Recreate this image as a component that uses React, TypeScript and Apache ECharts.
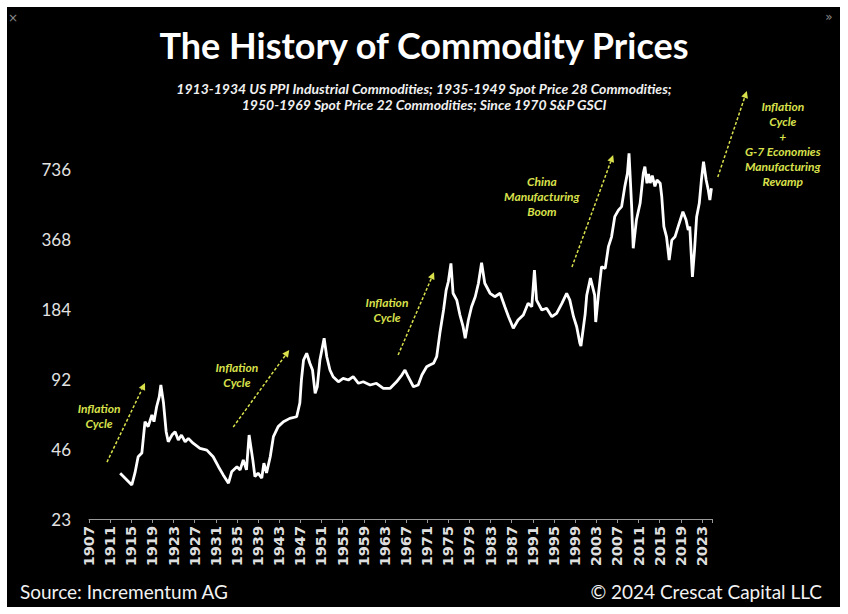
import React, { useEffect, useRef } from "react";
import * as echarts from "echarts";

// ---- Data ----
const BASE_YEAR = 1907;
const LAST_TICK_YEAR = 2023;
const AXIS_END_YEAR = 2025;
const TICK_STEP = 4;
const Y_TICK_LABELS = [23, 46, 92, 184, 368, 736];

const TITLE = "The History of Commodity Prices";
const SUBTITLE_LINES = [
  "1913-1934 US PPI Industrial Commodities; 1935-1949 Spot Price 28 Commodities;",
  "1950-1969 Spot Price 22 Commodities; Since 1970 S&P GSCI",
];
const SOURCE = "Source: Incrementum AG";
const COPYRIGHT = "© 2024 Crescat Capital LLC";

const YEARS = [
  1912.9, 1913.8, 1915.1, 1915.7, 1916.3, 1917.0, 1917.6, 1918.2, 1918.9, 1919.3,
  1919.8, 1920.3, 1920.6, 1921.1, 1921.6, 1922.0, 1922.7, 1923.3, 1923.9, 1924.5,
  1925.2, 1925.8, 1926.7, 1928.0, 1929.3, 1930.5, 1931.5, 1932.4, 1933.4, 1934.0,
  1935.0, 1935.6, 1936.2, 1936.8, 1937.3, 1938.0, 1938.4, 1939.0, 1939.7, 1940.1,
  1940.6, 1941.3, 1941.9, 1942.8, 1943.8, 1945.0, 1946.3, 1946.9, 1947.2, 1947.6,
  1948.2, 1948.8, 1949.3, 1949.8, 1950.2, 1950.7, 1951.5, 1952.0, 1952.6, 1953.2,
  1954.2, 1955.1, 1956.1, 1957.0, 1958.0, 1958.9, 1960.2, 1961.4, 1962.7, 1964.0,
  1965.2, 1966.2, 1966.8, 1967.4, 1968.4, 1969.3, 1970.0, 1970.9, 1971.5, 1972.2,
  1972.8, 1973.4, 1974.1, 1974.6, 1975.0, 1975.5, 1975.9, 1976.6, 1977.2, 1977.8,
  1978.2, 1978.8, 1979.4, 1980.1, 1980.7, 1981.3, 1981.9, 1982.9, 1983.8, 1984.8,
  1985.7, 1986.4, 1987.3, 1988.2, 1989.2, 1990.1, 1990.8, 1991.3, 1991.7, 1992.7,
  1993.6, 1994.6, 1995.5, 1996.5, 1997.4, 1998.0, 1998.7, 1999.3, 1999.9, 2000.1,
  2000.9, 2001.2, 2001.9, 2002.7, 2002.9, 2003.5, 2004.0, 2004.7, 2005.3, 2005.9,
  2006.5, 2007.2, 2007.8, 2008.4, 2008.9, 2009.2, 2009.7, 2010.0, 2010.6, 2011.3,
  2011.9, 2012.2, 2012.6, 2012.9, 2013.2, 2013.6, 2014.1, 2014.5, 2015.1, 2015.4,
  2015.8, 2016.3, 2016.8, 2017.3, 2017.9, 2018.5, 2019.4, 2020.0, 2020.4, 2020.7,
  2021.2, 2021.6, 2022.0, 2022.5, 2022.9, 2023.3, 2023.8, 2024.2, 2024.5, 2024.8,
];

const PRICES = [
  36.2, 34.5, 32.2, 36.3, 42.6, 44.2, 60.3, 57.4, 64.4, 60.3,
  69.9, 77.2, 86.7, 72.5, 54.6, 49.4, 52.8, 54.6, 50.3, 52.8,
  49.4, 51.1, 48.7, 46.3, 45.5, 42.6, 38.6, 35.6, 32.8, 36.7,
  38.6, 37.4, 41.3, 37.4, 52.8, 41.3, 35.0, 36.2, 34.5, 40.0,
  36.3, 42.6, 52.0, 57.4, 60.3, 62.3, 63.3, 72.5, 91.1, 111,
  118.7, 107.5, 100.6, 79.9, 85.2, 111, 137.7, 114.7, 100.6, 94.1,
  89.5, 92.6, 91.1, 94.1, 88.2, 89.5, 86.7, 88.2, 83.9, 83.9,
  89.5, 95.7, 100.6, 94.1, 85.2, 86.7, 95.7, 103.9, 105.7, 107.5,
  114.7, 144.6, 182.2, 222, 241, 289, 215, 201, 173.4, 154.4,
  137.7, 165, 188.2, 207.8, 237.4, 291, 237.4, 215, 207.8, 215,
  188.2, 170.5, 152, 165, 173.4, 194.7, 188.2, 270.7, 201, 182.2,
  185.3, 170.5, 176.3, 194.7, 215, 201, 170.5, 154.4, 131, 127.6,
  175, 211, 250, 211, 161.7, 222, 279.7, 275, 341, 376,
  459, 490, 507, 618, 705, 860, 507, 335.6, 444, 524,
  705, 753, 639, 700, 640, 690, 620, 660, 639, 559,
  416, 376, 299, 364, 376, 416, 482, 444, 402, 416,
  253, 330, 459, 524, 660, 791, 660, 598, 541, 608,
];

// Annotations, anchored in data space: [year, price]
const ANNOTATION_TEXTS = [
  ["Inflation", "Cycle"],
  ["Inflation", "Cycle"],
  ["Inflation", "Cycle"],
  ["China", "Manufacturing", "Boom"],
  ["Inflation", "Cycle", "+", "G-7 Economies", "Manufacturing", "Revamp"],
];
const ANNOTATION_AT: [number, number][] = [
  [1908.9, 63.8],
  [1935.0, 95.7],
  [1963.4, 182],
  [1992.7, 558],
  [2038.3, 947],
];
const ARROW_FROM: [number, number][] = [
  [1910.4, 40.4],
  [1934.3, 57.2],
  [1965.5, 116.7],
  [1998.4, 279],
  [2026.0, 680],
];
const ARROW_TO: [number, number][] = [
  [1917.6, 88.4],
  [1944.9, 122.6],
  [1972.3, 265],
  [2006.2, 845],
  [2031.5, 1594],
];

const Y_BASE = Y_TICK_LABELS[0];
const toLogY = (v: number) => Math.log2(v / Y_BASE);

const YELLOW = "#d9e04c";

export default function App() {
  const ref = useRef<HTMLDivElement>(null);

  useEffect(() => {
    if (!ref.current) return;
    const chart = echarts.init(ref.current, null, { renderer: "svg" });
    const seriesData = YEARS.map((y, i) => [y - BASE_YEAR, toLogY(PRICES[i])]);

    const subtitleTitles = SUBTITLE_LINES.map((line, i) => ({
      text: line,
      left: "center",
      top: 80 + i * 16,
      padding: 0,
      textStyle: {
        color: "#f0f0f0",
        fontFamily: "Lato",
        fontWeight: "bold",
        fontStyle: "italic",
        fontSize: 14,
        lineHeight: 16,
      },
    }));

    chart.setOption({
      animation: false,
      backgroundColor: "#ffffff",
      title: [
        {
          text: TITLE,
          left: "center",
          top: 27,
          padding: 0,
          textStyle: {
            color: "#ffffff",
            fontFamily: "Lato",
            fontWeight: "bold",
            fontSize: 36,
          },
        },
        ...subtitleTitles,
      ],
      grid: { left: 89, right: 135.5, top: 169, bottom: 95 },
      xAxis: {
        type: "value",
        min: 0,
        max: AXIS_END_YEAR - BASE_YEAR,
        interval: TICK_STEP,
        splitLine: { show: false },
        axisLine: { show: true, lineStyle: { color: "#9a9a9a", width: 1 } },
        axisTick: { show: true, length: 4, lineStyle: { color: "#9a9a9a" } },
        axisLabel: {
          rotate: 90,
          margin: 7,
          color: "#dedede",
          fontFamily: "DejaVu Sans",
          fontWeight: "bold",
          fontSize: 14.5,
          formatter: (v: number) =>
            v + BASE_YEAR > LAST_TICK_YEAR ? "" : String(Math.round(v + BASE_YEAR)),
        },
      },
      yAxis: {
        type: "value",
        min: 0,
        max: Y_TICK_LABELS.length - 1,
        interval: 1,
        splitLine: { show: false },
        axisLine: { show: false },
        axisTick: { show: false },
        axisLabel: {
          margin: 18,
          color: "#e2e2e2",
          fontFamily: "Lato",
          fontSize: 17,
          formatter: (v: number) => String(Y_TICK_LABELS[Math.round(v)] ?? ""),
        },
      },
      series: [
        {
          type: "line",
          data: seriesData,
          showSymbol: false,
          symbol: "none",
          clip: false,
          lineStyle: { color: "#ffffff", width: 2.8 },
          z: 3,
        },
      ],
    });

    const px = (p: [number, number]) =>
      chart.convertToPixel({ gridIndex: 0 }, [p[0] - BASE_YEAR, toLogY(p[1])]) as number[];

    const graphics: any[] = [
      {
        type: "rect",
        z: -100,
        silent: true,
        shape: { x: 7, y: 7, width: 833, height: 600 },
        style: { fill: "#000000" },
      },
      {
        type: "text",
        style: { text: "×", x: 13, y: 18, fill: "#8a8a8a", fontSize: 12, fontFamily: "DejaVu Sans", align: "center", verticalAlign: "middle" },
      },
      {
        type: "text",
        style: { text: "»", x: 829, y: 17, fill: "#8a8a8a", fontSize: 12, fontFamily: "DejaVu Sans", align: "center", verticalAlign: "middle" },
      },
      {
        type: "text",
        style: { text: SOURCE, x: 20, y: 591, fill: "#f2f2f2", fontSize: 19, fontFamily: "Lato", align: "left", verticalAlign: "middle" },
      },
      {
        type: "text",
        style: { text: COPYRIGHT, x: 822, y: 591, fill: "#f2f2f2", fontSize: 19, fontFamily: "Lato", align: "right", verticalAlign: "middle" },
      },
    ];

    ANNOTATION_TEXTS.forEach((lines, i) => {
      const [x, y] = px(ANNOTATION_AT[i]);
      graphics.push({
        type: "text",
        z: 5,
        style: {
          text: lines.join("\n"),
          x,
          y,
          fill: YELLOW,
          fontFamily: "Lato",
          fontWeight: "bold",
          fontStyle: "italic",
          fontSize: 12,
          lineHeight: 15,
          align: "center",
          verticalAlign: "middle",
        },
      });
      const [x1, y1] = px(ARROW_FROM[i]);
      const [x2, y2] = px(ARROW_TO[i]);
      const dx = x2 - x1;
      const dy = y2 - y1;
      const len = Math.sqrt(dx * dx + dy * dy);
      const ux = dx / len;
      const uy = dy / len;
      const headL = 7;
      const headW = 3.5;
      const bx = x2 - ux * headL;
      const by = y2 - uy * headL;
      graphics.push({
        type: "line",
        z: 5,
        shape: { x1, y1, x2: bx, y2: by },
        style: { stroke: YELLOW, lineWidth: 1.5, lineDash: [3, 2] },
      });
      graphics.push({
        type: "polygon",
        z: 5,
        shape: {
          points: [
            [x2, y2],
            [bx - uy * headW, by + ux * headW],
            [bx + uy * headW, by - ux * headW],
          ],
        },
        style: { fill: YELLOW },
      });
    });

    chart.setOption({ graphic: graphics });

    return () => chart.dispose();
  }, []);

  return (
    <div
      ref={ref}
      style={{ position: "fixed", left: 0, top: 0, width: 848, height: 614 }}
    />
  );
}
